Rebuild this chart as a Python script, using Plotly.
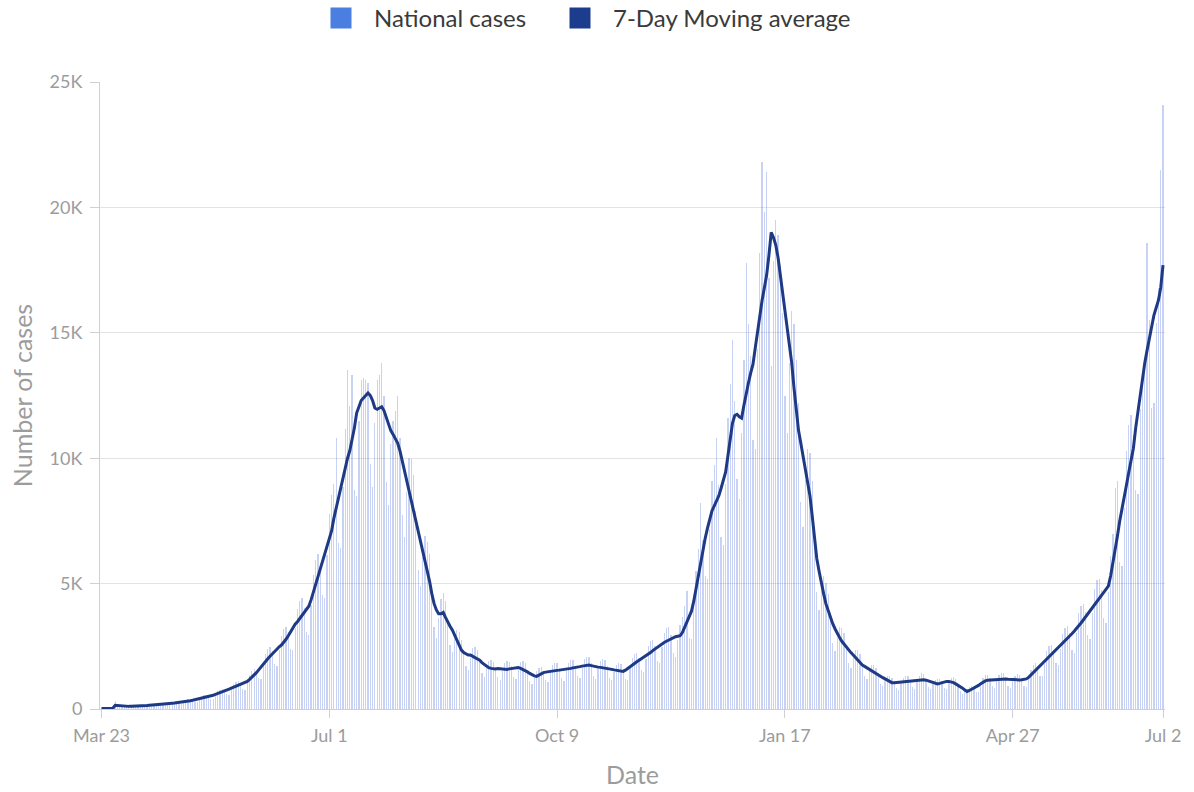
import pandas as pd
import plotly.graph_objects as go

# ---------------- data ----------------
start_date = "2020-03-23"

# daily national cases (one value per day from Mar 23, 2020)
daily_cases = [
    30, 20, 25, 30, 35, 20, 300, 90, 110, 130,
    120, 115, 110, 85, 80, 110, 140, 150, 155, 140,
    110, 105, 150, 185, 205, 215, 195, 150, 145, 200,
    255, 280, 285, 260, 200, 195, 270, 345, 380, 390,
    370, 290, 280, 390, 495, 540, 555, 525, 405, 395,
    550, 700, 770, 790, 745, 585, 570, 790, 1000, 1090,
    1120, 1040, 800, 760, 1050, 1360, 1510, 1590, 1520, 1220,
    1210, 1710, 2190, 2400, 2480, 2310, 1790, 1730, 2360, 2930,
    3180, 3280, 3070, 2400, 2340, 3210, 4000, 4320, 4430, 4040,
    3080, 2950, 4130, 5350, 5940, 6200, 5830, 4560, 4430, 6130,
    7760, 8520, 8970, 10800, 6630, 6410, 8840, 11150, 13500, 12100,
    13300, 8740, 8500, 11500, 13100, 13200, 13100, 13000, 9750, 8860,
    11400, 13100, 13300, 13800, 12500, 9050, 8140, 10550, 11500, 11900,
    12500, 10800, 7720, 6840, 8650, 10000, 9960, 9320, 7880, 5540,
    4900, 6080, 6900, 6660, 6200, 4830, 3280, 2840, 3610, 4370,
    4620, 4310, 3620, 2570, 2270, 2800, 3160, 3060, 2770, 2360,
    1720, 1550, 2040, 2420, 2460, 2360, 2050, 1440, 1280, 1620,
    1900, 1940, 1890, 1680, 1260, 1150, 1520, 1830, 1900, 1890,
    1700, 1280, 1190, 1570, 1860, 1900, 1830, 1550, 1110, 980,
    1250, 1500, 1620, 1680, 1520, 1150, 1070, 1430, 1740, 1820,
    1820, 1630, 1220, 1130, 1510, 1840, 1940, 1940, 1730, 1300,
    1220, 1620, 1990, 2090, 2070, 1820, 1330, 1210, 1590, 1910,
    1980, 1940, 1700, 1250, 1140, 1480, 1770, 1820, 1780, 1580,
    1210, 1170, 1620, 2020, 2180, 2220, 2040, 1560, 1480, 2000,
    2510, 2700, 2750, 2520, 1930, 1830, 2470, 3050, 3240, 3250,
    2940, 2220, 2070, 2760, 3360, 3660, 4100, 4700, 2850, 2810,
    4090, 5520, 6360, 8200, 6720, 5300, 5180, 7170, 9090, 9720,
    10800, 8930, 6860, 6550, 8980, 11620, 12960, 14700, 12290, 9170,
    8390, 11020, 13900, 17800, 15340, 14070, 10730, 10370, 14350, 18170,
    21800, 19820, 21400, 17200, 13680, 17860, 19500, 18900, 17700, 15800,
    12480, 11020, 13780, 15870, 15360, 13920, 12200, 8270, 7270, 9120,
    10350, 10200, 9090, 7190, 4680, 3960, 4750, 5290, 5040, 4600,
    3830, 2650, 2300, 2850, 3280, 3240, 3040, 2570, 1830, 1620,
    2040, 2360, 2340, 2180, 1840, 1330, 1180, 1500, 1750, 1750,
    1650, 1420, 1010, 900, 1140, 1320, 1320, 1240, 1100, 830,
    770, 1030, 1240, 1310, 1300, 1160, 870, 810, 1080, 1330,
    1420, 1380, 1210, 870, 780, 1000, 1170, 1200, 1200, 1100,
    840, 790, 1050, 1240, 1260, 1180, 1000, 700, 600, 720,
    810, 890, 930, 870, 680, 680, 960, 1230, 1340, 1360,
    1220, 910, 850, 1120, 1370, 1440, 1420, 1260, 930, 850,
    1110, 1330, 1380, 1370, 1230, 930, 860, 1200, 1550, 1740,
    1830, 1710, 1330, 1300, 1810, 2300, 2520, 2570, 2370, 1830,
    1750, 2390, 2990, 3240, 3300, 3050, 2340, 2230, 3040, 3820,
    4120, 4190, 3850, 2950, 2810, 3820, 4770, 5140, 5190, 4750,
    3630, 3440, 4660, 6100, 6960, 8800, 9100, 5850, 5720, 8030,
    10290, 11340, 11740, 10920, 8740, 8570, 11970, 13300, 13400, 18600,
    15500, 12000, 12200, 15400, 16800, 21500, 24100,
]

# 7-day moving average
moving_avg = [
    20, 20, 25, 25, 30, 30, 150, 140, 120, 110,
    100, 100, 105, 110, 110, 115, 120, 125, 130, 135,
    140, 150, 155, 160, 170, 180, 185, 190, 200, 210,
    220, 230, 240, 250, 260, 270, 285, 300, 315, 330,
    350, 370, 390, 410, 430, 450, 470, 500, 520, 550,
    580, 610, 640, 670, 710, 750, 790, 830, 870, 910,
    950, 990, 1020, 1050, 1100, 1180, 1260, 1350, 1450, 1560,
    1680, 1800, 1900, 2000, 2100, 2200, 2300, 2400, 2480, 2550,
    2650, 2780, 2920, 3080, 3250, 3380, 3480, 3600, 3750, 3850,
    3950, 4100, 4350, 4650, 4950, 5250, 5550, 5850, 6150, 6450,
    6750, 7100, 7600, 8000, 8500, 8900, 9300, 9700, 10000, 10300,
    10700, 11200, 11800, 12100, 12300, 12400, 12500, 12600, 12500, 12300,
    12000, 11950, 12000, 12050, 11900, 11600, 11300, 11100, 10950, 10800,
    10600, 10300, 9900, 9500, 9100, 8700, 8300, 7900, 7500, 7100,
    6800, 6400, 6000, 5550, 5100, 4600, 4200, 3950, 3800, 3800,
    3850, 3650, 3450, 3300, 3150, 2950, 2750, 2550, 2350, 2250,
    2200, 2150, 2150, 2100, 2050, 2000, 1950, 1850, 1780, 1700,
    1650, 1620, 1600, 1600, 1610, 1600, 1600, 1590, 1580, 1600,
    1620, 1640, 1650, 1650, 1620, 1580, 1550, 1480, 1420, 1360,
    1320, 1300, 1350, 1420, 1450, 1470, 1490, 1500, 1510, 1520,
    1540, 1550, 1560, 1570, 1590, 1600, 1620, 1640, 1650, 1670,
    1690, 1710, 1730, 1740, 1750, 1730, 1700, 1680, 1670, 1660,
    1650, 1640, 1620, 1600, 1580, 1560, 1540, 1520, 1510, 1500,
    1550, 1620, 1700, 1760, 1820, 1880, 1940, 2000, 2050, 2100,
    2180, 2250, 2330, 2400, 2470, 2540, 2600, 2650, 2700, 2750,
    2800, 2850, 2880, 2900, 2920, 3050, 3250, 3450, 3650, 3900,
    4300, 4800, 5300, 5850, 6400, 6800, 7200, 7550, 7900, 8100,
    8300, 8500, 8800, 9100, 9450, 10100, 10800, 11400, 11700, 11750,
    11650, 11600, 12100, 12600, 13000, 13400, 13750, 14400, 15100, 15800,
    16300, 16800, 17300, 18100, 19000, 18800, 18500, 18000, 17300, 16700,
    16000, 15300, 14500, 13800, 12800, 11800, 11100, 10600, 10100, 9600,
    9000, 8500, 7700, 6850, 6000, 5500, 5000, 4600, 4200, 3900,
    3650, 3400, 3200, 3000, 2850, 2700, 2580, 2450, 2350, 2250,
    2150, 2050, 1950, 1850, 1750, 1700, 1640, 1580, 1520, 1460,
    1400, 1350, 1300, 1250, 1200, 1150, 1100, 1050, 1050, 1060,
    1070, 1080, 1080, 1090, 1100, 1100, 1110, 1120, 1140, 1160,
    1180, 1170, 1150, 1120, 1080, 1050, 1020, 1000, 1020, 1050,
    1080, 1100, 1100, 1080, 1050, 1000, 950, 900, 830, 760,
    700, 740, 790, 830, 870, 940, 1010, 1070, 1120, 1150,
    1160, 1170, 1180, 1180, 1190, 1200, 1200, 1200, 1190, 1180,
    1170, 1160, 1150, 1160, 1170, 1190, 1200, 1260, 1350, 1450,
    1550, 1630, 1700, 1800, 1900, 2000, 2100, 2180, 2260, 2350,
    2430, 2520, 2600, 2700, 2800, 2900, 3000, 3100, 3200, 3320,
    3430, 3550, 3670, 3780, 3900, 4020, 4150, 4280, 4400, 4520,
    4650, 4780, 4900, 5300, 5800, 6300, 6900, 7500, 7950, 8450,
    8950, 9450, 9950, 10400, 11200, 11900, 12600, 13200, 13800, 14300,
    14800, 15300, 15700, 16000, 16300, 16800, 17700,
]

x_tick_dates = ["2020-03-23", "2020-07-01", "2020-10-09", "2021-01-17", "2021-04-27", "2021-07-02"]
x_tick_text = ["Mar 23", "Jul 1", "Oct 9", "Jan 17", "Apr 27", "Jul 2"]
y_tick_vals = [0, 5000, 10000, 15000, 20000, 25000]
y_tick_text = ["0", "5K", "10K", "15K", "20K", "25K"]

series_names = ["National cases", "7-Day Moving average"]
series_colors = ["#4a7ee0", "#1c3c8e"]
legend_entry_widths = [168, 260]

# ---------------- figure ----------------
n = min(len(daily_cases), len(moving_avg))
dates = pd.date_range(start_date, periods=n, freq="D")

FONT = "Lato, 'Open Sans', sans-serif"
GRAY = "#9c9c9c"

fig = go.Figure()
fig.add_trace(go.Bar(
    x=dates, y=daily_cases[:n],
    width=0.55 * 86400000,
    marker=dict(color="rgba(80,115,222,0.32)", line=dict(width=0)),
    showlegend=False, hoverinfo="x+y",
))
fig.add_trace(go.Scatter(
    x=dates, y=moving_avg[:n], mode="lines",
    line=dict(color="#1f3a85", width=3),
    showlegend=False,
))
for name, col, ew in zip(series_names, series_colors, legend_entry_widths):
    fig.add_trace(go.Scatter(
        x=[None], y=[None], mode="markers", name=name,
        marker=dict(symbol="square", size=16, color=col,
                    line=dict(color=col, width=5)),
        legendwidth=ew,
        showlegend=True,
    ))

fig.update_layout(
    width=1194, height=792,
    margin=dict(l=100, r=29, t=82, b=83),
    paper_bgcolor="white", plot_bgcolor="white",
    font=dict(family=FONT, color=GRAY),
    bargap=0,
    legend=dict(
        orientation="h", xref="container", yref="container",
        x=308 / 1194, xanchor="left", y=1 - 18.5 / 792, yanchor="middle",
        font=dict(size=24, color="#3a3a3a", family=FONT),
        itemwidth=56, entrywidthmode="pixels",
        bgcolor="rgba(0,0,0,0)",
    ),
    xaxis=dict(
        type="date", automargin=False,
        range=["2020-03-22 08:00", "2021-07-02 21:00"],
        tickvals=x_tick_dates, ticktext=x_tick_text,
        showgrid=False, zeroline=False,
        showline=True, linecolor="#d0d0d0", linewidth=1,
        ticks="outside", ticklen=8, tickcolor="#d0d0d0",
        ticklabelstandoff=2,
        tickfont=dict(size=18, color=GRAY),
        title=dict(text="Date", font=dict(size=25, color=GRAY), standoff=21),
    ),
    yaxis=dict(
        range=[0, 25000], automargin=False,
        tickvals=y_tick_vals, ticktext=y_tick_text,
        showgrid=True, gridcolor="#e3e3e3", gridwidth=1,
        zeroline=False,
        showline=True, linecolor="#d0d0d0", linewidth=1,
        ticks="outside", ticklen=9, tickcolor="#d0d0d0",
        ticklabelstandoff=4,
        tickfont=dict(size=18, color=GRAY),
        title=dict(text="Number of cases", font=dict(size=25, color=GRAY), standoff=9),
    ),
)

fig.write_html(
    "out.html",
    config={"displayModeBar": False},
    post_script="document.body.style.margin='0px';",
)
